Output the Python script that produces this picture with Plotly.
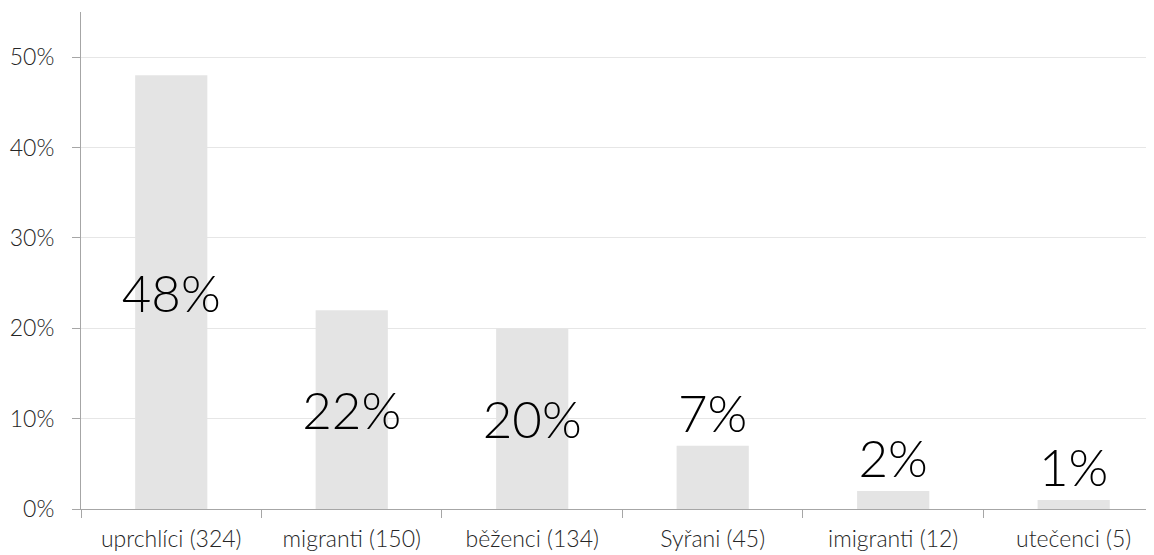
import plotly.graph_objects as go

categories = ["uprchlíci (324)", "migranti (150)", "běženci (134)", "Syřani (45)", "imigranti (12)", "utečenci (5)"]
shares = [48, 22, 20, 7, 2, 1]
labels = ["48%", "22%", "20%", "7%", "2%", "1%"]
label_pos = ["inside", "inside", "inside", "outside", "outside", "outside"]

fig = go.Figure(go.Bar(
    x=categories, y=shares, text=labels,
    textposition=label_pos, insidetextanchor="middle",
    constraintext="none", cliponaxis=False, textangle=0,
    textfont=dict(family="Lato", size=51, color="#000000", weight=300),
    marker=dict(color="#e4e4e4", line=dict(width=0)),
    width=0.4, hoverinfo="skip",
))

fig.update_layout(
    width=1146, height=547,
    margin=dict(l=73, r=0, t=4, b=46),
    paper_bgcolor="white", plot_bgcolor="white",
    showlegend=False,
    font=dict(family="Lato", size=23, color="#262626"),
    xaxis=dict(
        type="category", range=[-0.5, 5.445], automargin=False,
        showline=True, linecolor="#a6a6a6", linewidth=1,
        ticks="outside", tickson="boundaries", ticklen=8, tickcolor="#a6a6a6",
        showgrid=False, ticklabelstandoff=9,
        tickfont=dict(family="Lato", size=23, color="#262626", weight=300),
    ),
    yaxis=dict(
        range=[0, 55], tickvals=[0, 10, 20, 30, 40, 50], automargin=False,
        ticktext=["0%", "10%", "20%", "30%", "40%", "50%"],
        showline=True, linecolor="#a6a6a6", linewidth=1,
        ticks="outside", ticklen=8, tickcolor="#a6a6a6",
        showgrid=True, gridcolor="#e6e6e6", gridwidth=1,
        zeroline=False, ticklabelstandoff=13,
        tickfont=dict(family="Lato", size=23, color="#262626", weight=300),
    ),
)

fig.write_html("out.html")
